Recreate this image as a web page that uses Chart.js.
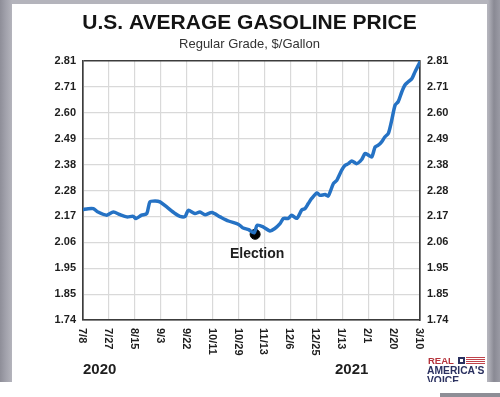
<!DOCTYPE html>
<html>
<head>
<meta charset="utf-8">
<script src="https://cdn.jsdelivr.net/npm/chart.js@4"></script>
<style>
  html,body{margin:0;padding:0;}
  body{width:500px;height:397px;background:#fff;position:relative;overflow:hidden;font-family:"Liberation Sans",Arial,sans-serif;}
  #frame{position:absolute;left:0;top:0;width:500px;height:382px;
    background:linear-gradient(90deg,#8e8e98 0px,#a2a2ac 6px,#b4b4bc 12px,#b4b4bc 488px,#8a8a94 494px,#9a9aa4 500px);}
  #panel{position:absolute;left:12px;top:4px;width:475px;height:378px;background:#fff;overflow:hidden;}
  #bar{position:absolute;left:440px;top:393px;width:60px;height:4px;background:#8e8e96;}
  canvas{display:block;}
</style>
</head>
<body>
<div id="frame"></div>
<div id="panel"><canvas id="c" width="475" height="378"></canvas></div>
<div id="bar"></div>
<script>
// ---- data ----
const xTickLabels = ["7/8","7/27","8/15","9/3","9/22","10/11","10/29","11/13","12/6","12/25","1/13","2/1","2/20","3/10"];
const yTickLabels = ["1.74","1.85","1.95","2.06","2.17","2.28","2.38","2.49","2.60","2.71","2.81"];
const yMin = 1.74, yMax = 2.81;
// position of each reading, in tick-interval units (0 = 7/8, 13 = 3/10)
const xPos = [0.00,0.20,0.40,0.58,0.91,1.17,1.43,1.69,1.94,2.04,2.26,2.46,2.58,2.78,2.97,3.23,3.55,3.74,3.94,4.06,
  4.32,4.51,4.71,4.97,5.29,5.61,5.93,6.05,6.18,6.39,6.60,6.72,6.96,7.21,7.40,7.60,7.73,7.92,8.05,8.25,
  8.44,8.56,8.69,8.82,9.03,9.14,9.34,9.46,9.66,9.79,9.98,10.11,10.24,10.37,10.56,10.75,10.88,11.01,11.14,11.27,
  11.39,11.52,11.65,11.78,11.91,12.04,12.16,12.30,12.42,12.55,12.69,12.81,12.94,13.00];
const price = [2.196,2.200,2.200,2.186,2.173,2.186,2.175,2.166,2.168,2.159,2.173,2.180,2.228,2.232,2.228,2.207,2.180,2.168,2.168,2.193,
  2.180,2.186,2.175,2.184,2.166,2.149,2.138,2.131,2.120,2.113,2.100,2.131,2.124,2.108,2.118,2.138,2.159,2.160,2.173,2.160,
  2.195,2.200,2.221,2.242,2.265,2.255,2.258,2.252,2.304,2.317,2.359,2.379,2.386,2.397,2.386,2.403,2.428,2.421,2.414,2.455,
  2.462,2.476,2.497,2.511,2.566,2.628,2.642,2.683,2.711,2.724,2.738,2.766,2.793,2.807];
const electionX = [6.64];
const electionY = [2.094];
const electionLabel = "Election";
const yearLabels = ["2020","2021"];
const yearPos = [0, 9.72];

const FONT = "'Liberation Sans', Arial, sans-serif";
const yTickValues = yTickLabels.map((_, i) => yMin + i * (yMax - yMin) / (yTickLabels.length - 1));
const DARK = '#3c3c3c', LIGHT = '#d9d9d9';

const overlay = {
  id: 'overlay',
  afterDraw(chart) {
    const {ctx, chartArea} = chart;
    const xs = chart.scales.x, ys = chart.scales.y;
    ctx.save();
    // rotated x tick labels (reading top to bottom)
    ctx.fillStyle = '#1e1e1e';
    ctx.font = "bold 11px " + FONT;
    ctx.textAlign = 'left';
    ctx.textBaseline = 'middle';
    xTickLabels.forEach((lab, i) => {
      ctx.save();
      ctx.translate(xs.getPixelForValue(i) - 1, chartArea.bottom + 8);
      ctx.rotate(Math.PI / 2);
      ctx.fillText(lab, 0, 0);
      ctx.restore();
    });
    // year labels
    ctx.font = "bold 15px " + FONT;
    ctx.textBaseline = 'middle';
    yearLabels.forEach((lab, i) => {
      ctx.fillText(lab, xs.getPixelForValue(yearPos[i]), chartArea.bottom + 50);
    });
    // election label
    ctx.font = "bold 14px " + FONT;
    ctx.textAlign = 'center';
    ctx.fillText(electionLabel, xs.getPixelForValue(electionX[0]) + 2, ys.getPixelForValue(electionY[0]) + 20);
    // logo
    const lx = chart.width - 59, ly = chart.height - 21;
    ctx.textAlign = 'left';
    ctx.font = "bold 9.5px " + FONT;
    ctx.fillStyle = '#b5343c';
    ctx.fillText("REAL", lx, ly);
    ctx.fillStyle = '#2b3160';
    ctx.fillRect(lx + 30, ly - 4, 7, 7);
    ctx.fillStyle = '#fff';
    ctx.fillRect(lx + 32, ly - 2, 3, 3);
    ctx.fillStyle = '#c0444c';
    for (let k = 0; k < 4; k++) ctx.fillRect(lx + 38, ly - 4 + k * 2, 19, 1);
    ctx.fillStyle = '#2b3160';
    ctx.font = "bold 10.3px " + FONT;
    ctx.fillText("AMERICA'S", lx - 1, ly + 10.5);
    ctx.fillText("VOICE", lx - 1, ly + 20.5);
    ctx.restore();
  }
};

new Chart(document.getElementById('c'), {
  type: 'line',
  data: {
    datasets: [{
      data: xPos.map((x, i) => ({x: x, y: price[i]})),
      borderColor: '#2572c4',
      borderWidth: 3.5,
      pointRadius: 0,
      tension: 0.25,
      borderCapStyle: 'round',
      borderJoinStyle: 'round'
    }, {
      data: electionX.map((x, i) => ({x: x, y: electionY[i]})),
      showLine: false,
      pointRadius: 5,
      pointBackgroundColor: '#000',
      pointBorderColor: '#000'
    }]
  },
  options: {
    responsive: false,
    animation: false,
    layout: {padding: {top: 0, bottom: 62, left: 0, right: 0}},
    plugins: {
      legend: {display: false},
      tooltip: {enabled: false},
      title: {display: true, text: 'U.S. AVERAGE GASOLINE PRICE', color: '#141414',
        font: {family: FONT, size: 21, weight: 'bold'}, padding: {top: 6.4, bottom: 0}},
      subtitle: {display: true, text: 'Regular Grade, $/Gallon', color: '#333',
        font: {family: FONT, size: 13, weight: 'normal'}, padding: {top: 0.6, bottom: 9.2}}
    },
    scales: {
      x: {
        type: 'linear', min: 0, max: xTickLabels.length - 1,
        afterBuildTicks: s => { s.ticks = xTickLabels.map((_, i) => ({value: i})); },
        ticks: {display: false},
        grid: {drawTicks: false, lineWidth: 1.2,
          color: c => (c.tick && (c.tick.value === 0 || c.tick.value === xTickLabels.length - 1)) ? DARK : LIGHT},
        border: {display: true, color: DARK, width: 1.6}
      },
      y: {
        position: 'left', min: yMin, max: yMax,
        afterBuildTicks: s => { s.ticks = yTickValues.map(v => ({value: v})); },
        afterFit: s => { s.width = 71; },
        ticks: {callback: (v, i) => yTickLabels[i], color: '#1e1e1e', padding: 7,
          font: {family: FONT, size: 11, weight: 'bold'}},
        grid: {drawTicks: false, lineWidth: c => (c.index === yTickLabels.length - 1 ? 1.6 : 1.2),
          color: c => (c.index === 0 || c.index === yTickLabels.length - 1) ? DARK : LIGHT},
        border: {display: true, color: DARK, width: 1.6}
      },
      y2: {
        position: 'right', min: yMin, max: yMax,
        afterBuildTicks: s => { s.ticks = yTickValues.map(v => ({value: v})); },
        afterFit: s => { s.width = 67; },
        ticks: {callback: (v, i) => yTickLabels[i], color: '#1e1e1e', padding: 7,
          font: {family: FONT, size: 11, weight: 'bold'}},
        grid: {display: false, drawTicks: false},
        border: {display: true, color: DARK, width: 1.6}
      }
    }
  },
  plugins: [overlay]
});
</script>
</body>
</html>
